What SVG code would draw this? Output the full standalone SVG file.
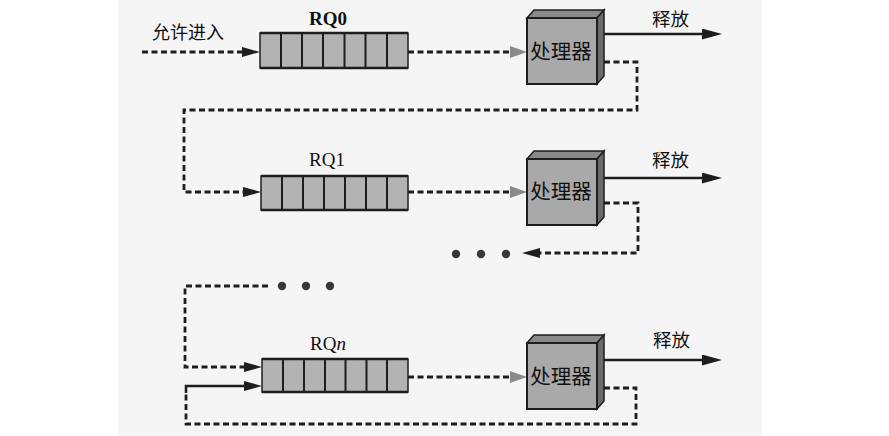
<svg xmlns="http://www.w3.org/2000/svg" width="889" height="436" viewBox="0 0 889 436">
<style>
.bg{fill:#f5f5f5}
.q{fill:#b3b3b3;stroke:#1e1e1e;stroke-width:1.5}
.qe{stroke:#1e1e1e;stroke-width:2.6;fill:none}
.qd{stroke:#1e1e1e;stroke-width:2;fill:none}
.front{fill:#a9a9a9;stroke:#1e1e1e;stroke-width:2}
.top{fill:#8a8a8a;stroke:#1e1e1e;stroke-width:1.5}
.side{fill:#6c6c6c;stroke:#1e1e1e;stroke-width:1.5}
.dash{fill:none;stroke:#1e1e1e;stroke-width:2.8;stroke-dasharray:6 3.5}
.solid{fill:none;stroke:#1e1e1e;stroke-width:2.6}
.dot{fill:#383838}
.cn{font-family:"Noto Sans CJK SC","Noto Sans",sans-serif;fill:#111}
.rq{font-family:"Liberation Serif",serif;font-size:19px;fill:#111;text-anchor:middle}
.proc{font-size:20.5px;text-anchor:middle}
.rel{font-size:18.5px}
</style>
<defs>
<marker id="ab" viewBox="0 0 18 10" refX="0" refY="5" markerWidth="18" markerHeight="10" markerUnits="userSpaceOnUse" orient="auto">
<path d="M0,0 L18,5 L0,10 z" fill="#1e1e1e"/>
</marker>
<marker id="ag" viewBox="0 0 17 12" refX="0" refY="6" markerWidth="17" markerHeight="12" markerUnits="userSpaceOnUse" orient="auto">
<path d="M0,0 L17,6 L0,12 z" fill="#8a8a8a"/>
</marker>
<marker id="ar" viewBox="0 0 20 11" refX="0" refY="5.5" markerWidth="20" markerHeight="11" markerUnits="userSpaceOnUse" orient="auto">
<path d="M0,0 L20,5.5 L0,11 z" fill="#1e1e1e"/>
</marker>
</defs>
<rect x="0" y="0" width="889" height="436" fill="#ffffff"/>
<rect class="bg" x="118" y="0" width="644" height="436"/>

<g id="connectors">
<path class="dash" d="M142,52 H242" marker-end="url(#ab)"/>
<path class="dash" d="M408,52 H510" marker-end="url(#ag)"/>
<path class="dash" d="M604,62 H637 V110 H184 V192 H243" marker-end="url(#ab)"/>
<path class="dash" d="M408,192 H510" marker-end="url(#ag)"/>
<path class="dash" d="M604,203 H638 V253 H540" marker-end="url(#ab)"/>
<path class="dash" d="M268,286 H185 V367 H244" marker-end="url(#ab)"/>
<path class="dash" d="M408,377 H510" marker-end="url(#ag)"/>
<path class="dash" d="M604,388 H636 V424 H186 V393"/>
<path class="solid" d="M186,393 V386 H244" marker-end="url(#ab)"/>
<path class="solid" d="M604,34 H702" marker-end="url(#ar)"/>
<path class="solid" d="M604,178 H702" marker-end="url(#ar)"/>
<path class="solid" d="M604,360 H702" marker-end="url(#ar)"/>
<circle class="dot" cx="456" cy="254" r="4.2"/>
<circle class="dot" cx="481" cy="254" r="4.2"/>
<circle class="dot" cx="506" cy="254" r="4.2"/>
<circle class="dot" cx="282" cy="286" r="4.2"/>
<circle class="dot" cx="306" cy="286" r="4.2"/>
<circle class="dot" cx="330" cy="286" r="4.2"/>
</g>

<g id="entry">
<text class="cn" x="152" y="39" font-size="18">允许进入</text>
</g>

<g id="rq0">
<rect class="q" x="260" y="33" width="148" height="35"/>
<path class="qd" d="M281,33V68 M302,33V68 M323,33V68 M344.5,33V68 M365.5,33V68 M387,33V68"/>
<path class="qe" d="M260,33H408 M260,68H408"/>
<text class="rq" x="328" y="25" font-weight="bold">RQ0</text>
</g>

<g id="rq1">
<rect class="q" x="261" y="176" width="147" height="34"/>
<path class="qd" d="M282,176V210 M303,176V210 M324,176V210 M345,176V210 M366,176V210 M387,176V210"/>
<path class="qe" d="M261,176H408 M261,210H408"/>
<text class="rq" x="327" y="166">RQ1</text>
</g>

<g id="rqn">
<rect class="q" x="262" y="359" width="146" height="33"/>
<path class="qd" d="M283,359V392 M304,359V392 M325,359V392 M345.5,359V392 M366.5,359V392 M387,359V392"/>
<path class="qe" d="M262,359H408 M262,392H408"/>
<text class="rq" x="328" y="350">RQ<tspan font-style="italic">n</tspan></text>
</g>

<g id="p0">
<polygon class="top" points="527,18 534,10 604,10 597,18"/>
<polygon class="side" points="597,18 604,10 604,76 597,84"/>
<rect class="front" x="527" y="18" width="70" height="66"/>
<text class="cn proc" x="561" y="59">处理器</text>
<text class="cn rel" x="652" y="26">释放</text>
</g>

<g id="p1">
<polygon class="top" points="527,159 534,151 604,151 597,159"/>
<polygon class="side" points="597,159 604,151 604,217 597,225"/>
<rect class="front" x="527" y="159" width="70" height="66"/>
<text class="cn proc" x="561" y="199">处理器</text>
<text class="cn rel" x="652" y="167">释放</text>
</g>

<g id="pn">
<polygon class="top" points="527,343 534,335 604,335 597,343"/>
<polygon class="side" points="597,343 604,335 604,401 597,409"/>
<rect class="front" x="527" y="343" width="70" height="66"/>
<text class="cn proc" x="561" y="384">处理器</text>
<text class="cn rel" x="653" y="347">释放</text>
</g>
</svg>
